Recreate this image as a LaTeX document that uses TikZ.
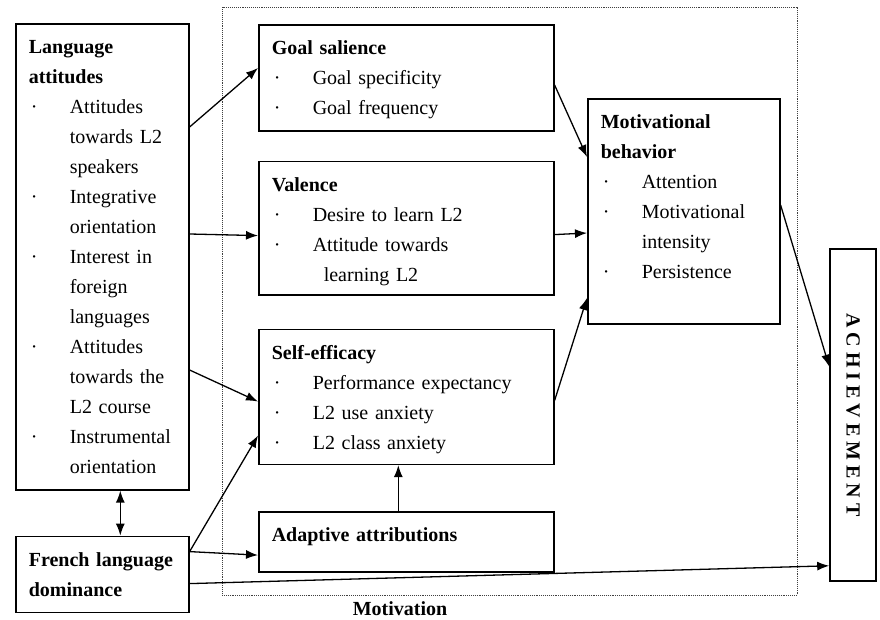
\documentclass[tikz,border=0pt]{standalone}
\usepackage{fontspec}
\setmainfont{Liberation Serif}
\usetikzlibrary{positioning,calc,arrows.meta}
\tikzstyle{block}=[rectangle, draw=black, line width=1.6pt, anchor=north west,
        align=left, inner xsep=13pt, inner ysep=9pt, font=\fontsize{20}{30}\selectfont]
\tikzstyle{myarrow}=[-{Latex[length=12pt,width=9pt]}, line width=1.3pt]
\tikzstyle{dualarrow}=[{Latex[length=12pt,width=9pt]}-{Latex[length=12pt,width=9pt]}, line width=1.3pt]
\tikzstyle{frame}=[rectangle, draw=black!75, densely dotted, line width=0.9pt, inner sep=0pt]
\newcommand{\dotitem}{\makebox[41pt][l]{\hspace{2pt}·}}
\newcommand{\cont}{\hspace*{41pt}}
\newcommand{\padto}[1]{\rule[-#1]{0pt}{#1}}

\begin{document}
\begin{tikzpicture}[x=1pt, y=-1pt]
	\useasboundingbox (0,0) rectangle (880,620);

	\node (MotivFrame) [frame, minimum width=575pt, minimum height=588pt] at (509.5,301) {};
	\node (MotivLabel) [font=\fontsize{20}{22}\selectfont\bfseries] at (400,609) {Motivation};

	\node (LangAtt) [block, text width=147pt] at (15,23)
        {
            \strut\textbf{Language}\\
            \textbf{attitudes}\\
            \dotitem Attitudes\\
            \cont towards L2\\
            \cont speakers\\
            \dotitem Integrative\\
            \cont orientation\\
            \dotitem Interest in\\
            \cont foreign\\
            \cont languages\\
            \dotitem Attitudes\\
            \cont towards the\\
            \cont L2 course\\
            \dotitem Instrumental\\
            \cont orientation\padto{7pt}
        };

	\node (FrenchDom) [block, text width=147pt, below=45pt of LangAtt]
        {
            \strut\textbf{French language}\\
            \textbf{dominance}\padto{7pt}
        };

	\node (GoalSal) [block, text width=269pt] at (258,24)
        {
            \strut\textbf{Goal salience}\\
            \dotitem Goal specificity\\
            \dotitem Goal frequency\padto{7pt}
        };

	\node (Valence) [block, text width=269pt, below=29pt of GoalSal]
        {
            \strut\textbf{Valence}\\
            \dotitem Desire to learn L2\\
            \dotitem Attitude towards\\
            \hspace*{52pt}learning L2
        };

	\node (SelfEff) [block, text width=269pt, below=33pt of Valence]
        {
            \strut\textbf{Self-efficacy}\\
            \dotitem Performance expectancy\\
            \dotitem L2 use anxiety\\
            \dotitem L2 class anxiety\padto{6pt}
        };

	\node (AdaptAttr) [block, text width=269pt, below=46pt of SelfEff]
        {
            \strut\textbf{Adaptive attributions}\padto{21pt}
        };

	\node (MotivBeh) [block, text width=166pt] at (587,98)
        {
            \strut\textbf{Motivational}\\
            \textbf{behavior}\\
            \dotitem Attention\\
            \dotitem Motivational\\
            \cont intensity\\
            \dotitem Persistence\padto{36pt}
        };

	\node (Achieve) [rectangle, draw=black, line width=1.6pt, rotate=-90, minimum width=332pt,
        minimum height=46pt, font=\fontsize{20}{24}\selectfont\bfseries] at (853,415)
        {A C H I E V E M E N T};

\draw[myarrow] ([yshift=-104pt]LangAtt.north east) -- ([yshift=-44pt]GoalSal.north west);
\draw[myarrow] ([yshift=-211pt]LangAtt.north east) -- ([yshift=-75pt]Valence.north west);
\draw[myarrow] ([yshift=-347pt]LangAtt.north east) -- ([yshift=-73pt]SelfEff.north west);
\draw[dualarrow] ([xshift=18pt]LangAtt.south) -- ([xshift=18pt]FrenchDom.north);

\draw[myarrow] ([yshift=-16pt]FrenchDom.north east) -- ([yshift=-107pt]SelfEff.north west);
\draw[myarrow] ([yshift=-16pt]FrenchDom.north east) -- ([yshift=-44pt]AdaptAttr.north west);
\draw[myarrow] ([yshift=-48pt]FrenchDom.north east) -- ($(Achieve.south west)!0.952!(Achieve.south east)$);

\draw[myarrow] ([xshift=-8pt]AdaptAttr.north) -- ([xshift=-8pt]SelfEff.south);

\draw[myarrow] ([yshift=-61pt]GoalSal.north east) -- ([yshift=-59pt]MotivBeh.north west);
\draw[myarrow] ([yshift=-74pt]Valence.north east) -- ([yshift=-135pt]MotivBeh.north west);
\draw[myarrow] ([yshift=-72pt]SelfEff.north east) -- ([yshift=-200pt]MotivBeh.north west);
\draw[myarrow] ([yshift=-107pt]MotivBeh.north east) -- ($(Achieve.south west)!0.355!(Achieve.south east)$);

\end{tikzpicture}
\end{document}
